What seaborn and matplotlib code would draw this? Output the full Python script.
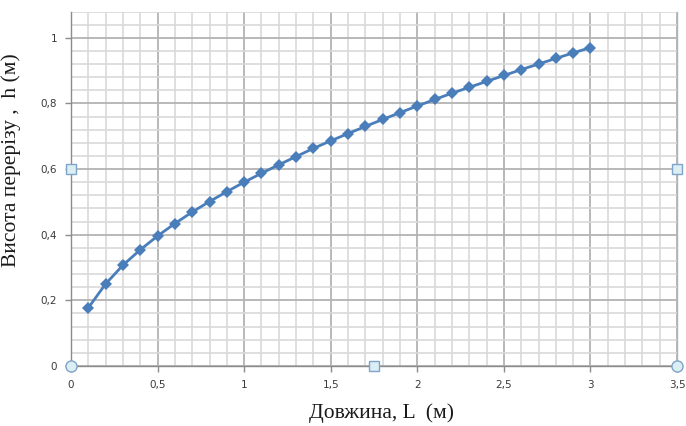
import matplotlib
matplotlib.use("Agg")
import matplotlib.pyplot as plt
import matplotlib.ticker as mticker
import seaborn as sns
import pandas as pd

# data
length_m = [0.1, 0.2, 0.3, 0.4, 0.5, 0.6, 0.7, 0.8, 0.9, 1.0,
            1.1, 1.2, 1.3, 1.4, 1.5, 1.6, 1.7, 1.8, 1.9, 2.0,
            2.1, 2.2, 2.3, 2.4, 2.5, 2.6, 2.7, 2.8, 2.9, 3.0]
height_m = [0.177, 0.250, 0.307, 0.354, 0.396, 0.434, 0.469, 0.501, 0.531, 0.560,
            0.587, 0.613, 0.638, 0.663, 0.686, 0.708, 0.730, 0.751, 0.772, 0.792,
            0.812, 0.831, 0.849, 0.867, 0.885, 0.903, 0.920, 0.937, 0.954, 0.970]

x_label = "Довжина, L  (м)"
y_label = "Висота перерізу ,  h (м)"

df = pd.DataFrame({"L": length_m, "h": height_m})

sns.set_style("white")
plt.rcParams['font.family'] = ['DejaVu Sans']

fig = plt.figure(figsize=(6.86, 4.26), dpi=100)
ax = fig.add_axes([0.1035, 0.141, 0.8835, 0.832])

sns.lineplot(data=df, x="L", y="h", ax=ax, color="#4a7ebb", linewidth=2,
             marker="D", markersize=6, markeredgewidth=0, zorder=5)

ax.set_xlim(0, 3.5)
ax.set_ylim(0, 1.08)

ax.xaxis.set_major_locator(mticker.MultipleLocator(0.5))
ax.xaxis.set_minor_locator(mticker.MultipleLocator(0.1))
ax.yaxis.set_major_locator(mticker.FixedLocator([0, 0.2, 0.4, 0.6, 0.8, 1.0]))
ax.yaxis.set_minor_locator(mticker.MultipleLocator(0.04))

fmt = mticker.FuncFormatter(lambda v, p: f"{v:g}".replace(".", ","))
ax.xaxis.set_major_formatter(fmt)
ax.yaxis.set_major_formatter(fmt)

ax.grid(which="minor", color="#d9d9d9", linewidth=1.2)
ax.grid(which="major", color="#b3b3b3", linewidth=1.3)
ax.set_axisbelow(True)

ax.spines["top"].set_visible(False)
ax.spines["right"].set_color("#b3b3b3")
ax.spines["left"].set_color("#8c8c8c")
ax.spines["bottom"].set_color("#8c8c8c")
for s in ["left", "bottom", "right"]:
    ax.spines[s].set_linewidth(1.0)

ax.tick_params(which="major", direction="out", length=4, width=1, color="#8c8c8c",
               labelsize=7.5, labelcolor="#3a3a3a", pad=6, left=True, bottom=True)
ax.tick_params(which="minor", length=0)

ax.set_xlabel(x_label, fontsize=15.5, family="Liberation Serif", color="#1a1a1a")
ax.set_ylabel(y_label, fontsize=15.5, family="Liberation Serif", color="#1a1a1a")
ax.xaxis.set_label_coords(0.513, -0.105)
ax.yaxis.set_label_coords(-0.083, 0.58)

# chart-area selection handles
for hx, hy, mk in [(0, 0.555, "s"), (0.5, 0, "s"), (1, 0.555, "s"), (0, 0, "o"), (1, 0, "o")]:
    ax.plot(hx, hy, marker=mk, transform=ax.transAxes, clip_on=False,
            markersize=6.5 if mk == "s" else 8, markerfacecolor="#dbeef4",
            markeredgecolor="#7fa4c8", markeredgewidth=1, zorder=10)

fig.savefig("out.png", dpi=100)
